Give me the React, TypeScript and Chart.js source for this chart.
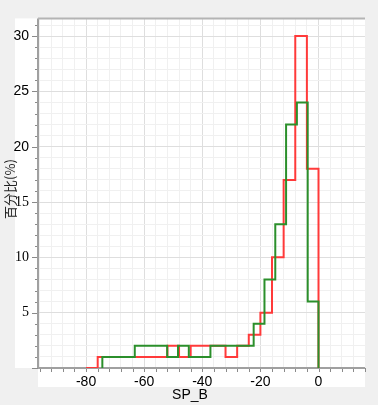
import React, { useEffect, useRef } from "react";
import { Chart, registerables } from "chart.js";

Chart.register(...registerables);

// Red histogram: bin edges and percentages
const redEdges = [-80, -76, -72, -68, -64, -60, -56, -52, -48, -44, -40, -36, -32, -28, -24, -20, -16, -12, -8, -4, 0];
const redValues = [0, 1, 1, 1, 1, 1, 1, 2, 1, 2, 2, 2, 1, 2, 3, 5, 10, 17, 30, 18];

// Green histogram: bin edges and percentages
const greenEdges = [-74.4, -70.68, -66.96, -63.24, -59.52, -55.8, -52.08, -48.36, -44.64, -40.92, -37.2, -33.48, -29.76, -26.04, -22.32, -18.6, -14.88, -11.16, -7.44, -3.72, 0];
const greenValues = [1, 1, 1, 2, 2, 2, 1, 2, 1, 1, 2, 2, 2, 2, 4, 8, 13, 22, 24, 6];

const xLabelTicks = [-80, -60, -40, -20, 0];
const yLabelTicks = [5, 10, 15, 20, 25, 30];
const xTitle = "SP_B";
const yTitle = "百分比(%)";

// Builds step outline points: each bin's value starts at its left edge,
// closing down to zero at the last edge.
function stepPoints(edges: number[], values: number[]) {
  const pts: { x: number; y: number }[] = [{ x: edges[0], y: 0 }];
  values.forEach((v, i) => {
    pts.push({ x: edges[i], y: v });
    pts.push({ x: edges[i + 1], y: v });
  });
  pts.push({ x: edges[edges.length - 1], y: 0 });
  return pts;
}

const framePlugin = {
  id: "frame",
  beforeDraw(chart: any) {
    const { ctx, chartArea: a } = chart;
    ctx.save();
    ctx.fillStyle = "#f0f0f0";
    ctx.fillRect(0, 0, chart.width, chart.height);
    ctx.fillStyle = "#ffffff";
    ctx.fillRect(15, a.top, a.right - 15, a.bottom - a.top);
    ctx.fillRect(a.left - 1, a.bottom, a.right - a.left + 1, 19);
    ctx.restore();
  },
  beforeDatasetsDraw(chart: any) {
    const { ctx, chartArea: a, scales } = chart;
    const xs = scales.x;
    const ys = scales.y;
    ctx.save();
    ctx.strokeStyle = "#8a8a8a";
    ctx.lineWidth = 1;
    for (let v = 0; v <= 31; v++) {
      const y = Math.round(ys.getPixelForValue(v)) + 0.5;
      const len = v % 5 === 0 ? 7 : 4;
      ctx.beginPath();
      ctx.moveTo(a.left - len, y);
      ctx.lineTo(a.left, y);
      ctx.stroke();
    }
    for (let v = -96; v <= 16; v += 4) {
      const x = Math.round(xs.getPixelForValue(v)) + 0.5;
      if (x < a.left - 1 || x > a.right + 1) continue;
      ctx.beginPath();
      ctx.moveTo(x, a.bottom);
      ctx.lineTo(x, a.bottom + 4);
      ctx.stroke();
    }
    ctx.strokeStyle = "#a0a0a0";
    ctx.lineWidth = 2;
    ctx.beginPath();
    ctx.moveTo(a.left - 1, a.top);
    ctx.lineTo(a.left - 1, a.bottom);
    ctx.stroke();
    ctx.beginPath();
    ctx.moveTo(a.left - 1, a.bottom);
    ctx.lineTo(a.right, a.bottom);
    ctx.stroke();
    ctx.strokeStyle = "#b4b4b4";
    ctx.beginPath();
    ctx.moveTo(a.left - 1, a.top);
    ctx.lineTo(a.right, a.top);
    ctx.stroke();
    ctx.restore();
  },
  afterDraw(chart: any) {
    const { ctx } = chart;
    ctx.save();
    ctx.fillStyle = "#000000";
    ctx.font = '14px "Liberation Sans", Arial, sans-serif';
    ctx.textAlign = "center";
    ctx.textBaseline = "middle";
    ctx.fillText(xTitle, 190, 395);
    ctx.translate(10, 189);
    ctx.rotate(-Math.PI / 2);
    ctx.fillStyle = "#222222";
    ctx.font = '13px "Noto Sans CJK SC", sans-serif';
    ctx.fillText(yTitle, 0, 0);
    ctx.restore();
  },
};

export default function App() {
  const ref = useRef<HTMLCanvasElement | null>(null);

  useEffect(() => {
    if (!ref.current) return;
    const chart = new Chart(ref.current, {
      type: "line",
      data: {
        datasets: [
          {
            label: "green",
            data: stepPoints(greenEdges, greenValues),
            borderColor: "#2b8f2b",
            borderWidth: 2,
            pointRadius: 0,
            fill: false,
            tension: 0,
            order: 0,
          },
          {
            label: "red",
            data: stepPoints(redEdges, redValues),
            borderColor: "#ff3a3a",
            borderWidth: 2,
            pointRadius: 0,
            fill: false,
            tension: 0,
            order: 1,
          },
        ],
      },
      options: {
        responsive: false,
        animation: false,
        devicePixelRatio: 1,
        layout: { padding: { left: 0, top: 8, right: 13, bottom: 0 } },
        plugins: {
          legend: { display: false },
          tooltip: { enabled: false },
          title: { display: false },
        },
        scales: {
          x: {
            type: "linear",
            min: -96.2,
            max: 16,
            border: { display: false },
            grid: {
              drawTicks: false,
              color: (c: any) => (c.tick && c.tick.value % 20 === 0 ? "#dedede" : "#f0f0f0"),
              lineWidth: 1,
            },
            ticks: {
              stepSize: 4,
              includeBounds: false,
              autoSkip: false,
              maxRotation: 0,
              padding: 6,
              color: "#000",
              font: { family: '"Liberation Sans", Arial, sans-serif', size: 14 },
              callback: (v: any) => (xLabelTicks.includes(Number(v)) ? String(v) : ""),
            },
            afterFit: (s: any) => {
              s.height = 37;
            },
          },
          y: {
            type: "linear",
            min: 0,
            max: 31.6,
            border: { display: false },
            grid: {
              drawTicks: false,
              color: (c: any) => (c.tick && c.tick.value % 5 === 0 ? "#dedede" : "#f0f0f0"),
              lineWidth: 1,
            },
            ticks: {
              stepSize: 1,
              includeBounds: false,
              autoSkip: false,
              padding: 10,
              color: "#000",
              font: (c: any) =>
                c.tick && c.tick.value >= 20
                  ? { family: '"Liberation Sans", Arial, sans-serif', size: 14 }
                  : { family: '"Liberation Serif", "Times New Roman", serif', size: 14 },
              callback: (v: any) => (yLabelTicks.includes(Number(v)) ? String(v) : ""),
            },
            afterFit: (s: any) => {
              s.width = 39;
            },
          },
        },
      },
      plugins: [framePlugin],
    });
    return () => chart.destroy();
  }, []);

  return (
    <div style={{ position: "absolute", left: 0, top: 0, width: 378, height: 405 }}>
      <canvas ref={ref} width={378} height={405} style={{ display: "block", width: 378, height: 405 }} />
    </div>
  );
}
